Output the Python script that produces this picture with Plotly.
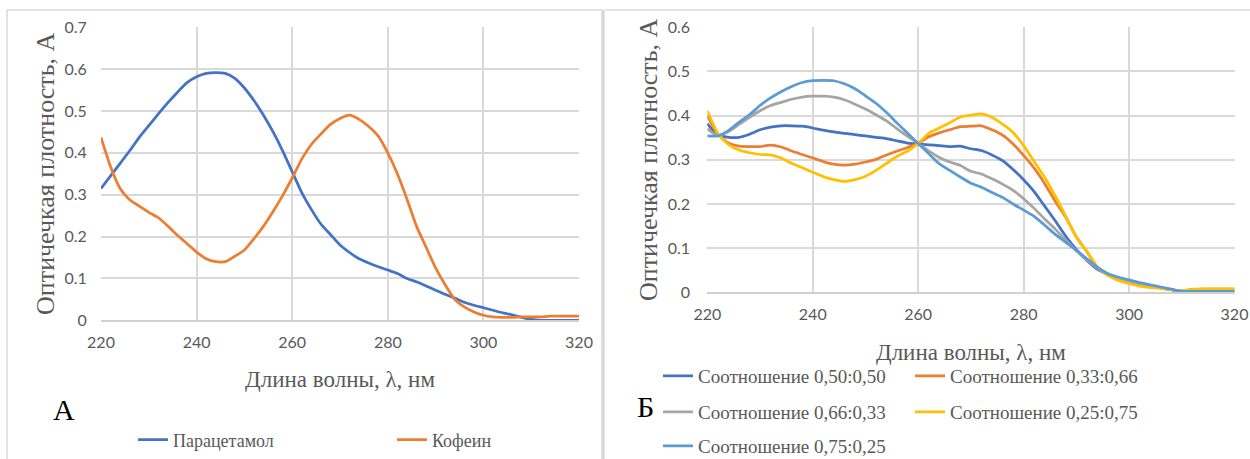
import plotly.graph_objects as go

W, H = 1250, 459

wl = list(range(220, 322, 2))

paracetamol = [0.315, 0.345, 0.375, 0.405, 0.437, 0.465, 0.493, 0.520, 0.545, 0.568,
               0.582, 0.590, 0.592, 0.590, 0.578, 0.555, 0.525, 0.490, 0.450, 0.405,
               0.355, 0.305, 0.265, 0.230, 0.205, 0.180, 0.162, 0.147, 0.137, 0.128,
               0.120, 0.112, 0.100, 0.092, 0.082, 0.072, 0.062, 0.053, 0.043, 0.036,
               0.030, 0.024, 0.018, 0.013, 0.007, 0.002, 0.0, 0.0, 0.0, 0.0, 0.0]
caffeine = [0.437, 0.367, 0.315, 0.288, 0.273, 0.258, 0.245, 0.225, 0.203, 0.183,
            0.163, 0.147, 0.140, 0.140, 0.153, 0.168, 0.195, 0.225, 0.260, 0.298,
            0.340, 0.385, 0.420, 0.445, 0.468, 0.482, 0.490, 0.480, 0.463, 0.440,
            0.400, 0.350, 0.290, 0.225, 0.175, 0.125, 0.085, 0.050, 0.032, 0.020,
            0.012, 0.008, 0.007, 0.007, 0.008, 0.008, 0.008, 0.010, 0.010, 0.010, 0.010]

r50_50 = [0.382, 0.356, 0.351, 0.351, 0.358, 0.368, 0.374, 0.377, 0.377, 0.376,
          0.372, 0.367, 0.363, 0.360, 0.357, 0.354, 0.351, 0.348, 0.343, 0.338,
          0.336, 0.334, 0.332, 0.330, 0.331, 0.325, 0.321, 0.311, 0.298, 0.278,
          0.255, 0.228, 0.195, 0.162, 0.127, 0.097, 0.072, 0.052, 0.040, 0.031,
          0.025, 0.019, 0.015, 0.010, 0.006, 0.002, 0.002, 0.002, 0.002, 0.002, 0.002]
r33_66 = [0.400, 0.358, 0.338, 0.331, 0.330, 0.330, 0.333, 0.329, 0.320, 0.312,
          0.304, 0.296, 0.290, 0.288, 0.290, 0.295, 0.301, 0.311, 0.320, 0.328,
          0.337, 0.352, 0.361, 0.368, 0.375, 0.376, 0.377, 0.368, 0.356, 0.336,
          0.310, 0.281, 0.246, 0.206, 0.170, 0.125, 0.092, 0.056, 0.040, 0.029,
          0.022, 0.016, 0.012, 0.010, 0.006, 0.003, 0.006, 0.007, 0.007, 0.007, 0.007]
r66_33 = [0.370, 0.355, 0.364, 0.380, 0.396, 0.411, 0.423, 0.430, 0.437, 0.442,
          0.444, 0.444, 0.442, 0.436, 0.426, 0.415, 0.402, 0.388, 0.370, 0.353,
          0.337, 0.320, 0.305, 0.295, 0.287, 0.274, 0.268, 0.257, 0.245, 0.231,
          0.212, 0.190, 0.166, 0.143, 0.118, 0.094, 0.073, 0.055, 0.042, 0.032,
          0.025, 0.019, 0.015, 0.010, 0.006, 0.002, 0.002, 0.002, 0.002, 0.002, 0.002]
r25_75 = [0.411, 0.360, 0.335, 0.322, 0.316, 0.312, 0.311, 0.304, 0.292, 0.282,
          0.272, 0.262, 0.255, 0.251, 0.255, 0.263, 0.276, 0.292, 0.308, 0.320,
          0.337, 0.360, 0.372, 0.384, 0.397, 0.401, 0.404, 0.396, 0.381, 0.362,
          0.332, 0.296, 0.260, 0.218, 0.172, 0.125, 0.093, 0.057, 0.038, 0.027,
          0.020, 0.014, 0.011, 0.009, 0.006, 0.003, 0.007, 0.008, 0.008, 0.008, 0.008]
r75_25 = [0.354, 0.354, 0.366, 0.385, 0.402, 0.423, 0.440, 0.454, 0.466, 0.475,
          0.479, 0.480, 0.479, 0.472, 0.461, 0.445, 0.428, 0.407, 0.383, 0.360,
          0.337, 0.314, 0.291, 0.276, 0.261, 0.247, 0.238, 0.226, 0.215, 0.200,
          0.186, 0.172, 0.152, 0.131, 0.113, 0.095, 0.076, 0.057, 0.042, 0.034,
          0.028, 0.022, 0.017, 0.012, 0.007, 0.002, 0.002, 0.002, 0.002, 0.002, 0.002]

left_series = [("Парацетамол", paracetamol, "#4472C4"), ("Кофеин", caffeine, "#ED7D31")]
right_series = [("Соотношение 0,50:0,50", r50_50, "#4472C4"),
                ("Соотношение 0,33:0,66", r33_66, "#ED7D31"),
                ("Соотношение 0,66:0,33", r66_33, "#A5A5A5"),
                ("Соотношение 0,25:0,75", r25_75, "#FFC000"),
                ("Соотношение 0,75:0,25", r75_25, "#5B9BD5")]

x_ticks = [220, 240, 260, 280, 300, 320]
y_ticks_left = [0, 0.1, 0.2, 0.3, 0.4, 0.5, 0.6, 0.7]
y_ticks_right = [0, 0.1, 0.2, 0.3, 0.4, 0.5, 0.6]


def ylab(v):
    return "0" if v == 0 else f"{v:.1f}"


def px(x):
    return x / W


def py(y):
    return 1 - y / H


SERIF = "Liberation Serif, Times New Roman, serif"

fig = go.Figure()

# legend anchor positions (pixel coords of legend box left / row centre)
left_leg_pos = [(133, 440), (392, 440)]
right_leg_pos = [(658, 376), (910, 376), (658, 412), (910, 412), (658, 446)]

left_leg_font = dict(family=SERIF, size=18, color="#595959")
right_leg_font = dict(family=SERIF, size=19, color="#595959")
leg_layouts = {}
n = 1
for (name, vals, col), (lx, ly) in zip(left_series, left_leg_pos):
    key = "legend" if n == 1 else f"legend{n}"
    fig.add_trace(go.Scatter(x=wl, y=vals, name=name, mode="lines",
                             line=dict(color=col, width=2.75, shape="spline", smoothing=0.6),
                             xaxis="x", yaxis="y", legend=key))
    leg_layouts[key] = dict(x=px(lx), y=py(ly), xanchor="left", yanchor="middle",
                            font=left_leg_font, bgcolor="rgba(0,0,0,0)")
    n += 1
for (name, vals, col), (lx, ly) in zip(right_series, right_leg_pos):
    key = f"legend{n}"
    fig.add_trace(go.Scatter(x=wl, y=vals, name=name, mode="lines",
                             line=dict(color=col, width=2.75, shape="spline", smoothing=0.6),
                             xaxis="x2", yaxis="y2", legend=key))
    leg_layouts[key] = dict(x=px(lx), y=py(ly), xanchor="left", yanchor="middle",
                            font=right_leg_font, bgcolor="rgba(0,0,0,0)")
    n += 1

tick_font = dict(family="Lato", size=16, color="#595959")
title_font = dict(family=SERIF, size=23, color="#595959")
ytitle_font = dict(family=SERIF, size=26, color="#595959")
grid = "#D9D9D9"

axis_common = dict(showgrid=True, gridcolor=grid, gridwidth=1.5, zeroline=False,
                   showline=False, tickfont=tick_font, ticks="outside",
                   tickcolor="rgba(0,0,0,0)", mirror=False, automargin=False)

fig.update_layout(
    width=W, height=H,
    margin=dict(l=0, r=0, t=0, b=0, autoexpand=False),
    paper_bgcolor="white", plot_bgcolor="white",
    showlegend=True,
    xaxis=dict(domain=[px(101), px(579)], range=[220, 320], tickvals=x_ticks,
               ticklen=7, anchor="y",
               title=dict(text="Длина волны, λ, нм", font=title_font, standoff=21),
               **axis_common),
    yaxis=dict(domain=[py(320.3), py(27.3)], range=[0, 0.7], tickvals=y_ticks_left,
               ticktext=[ylab(v) for v in y_ticks_left], ticklen=10, anchor="x",
               title=dict(text="Оптичечкая плотность, А", font=ytitle_font, standoff=2),
               **axis_common),
    xaxis2=dict(domain=[px(707.3), px(1234.5)], range=[220, 320], tickvals=x_ticks,
                ticklen=7, anchor="y2",
                title=dict(text="Длина волны, λ, нм", font=title_font, standoff=22),
                **axis_common),
    yaxis2=dict(domain=[py(292.3), py(27.3)], range=[0, 0.6], tickvals=y_ticks_right,
                ticktext=[ylab(v) for v in y_ticks_right], ticklen=13, anchor="x2",
                title=dict(text="Оптичечкая плотность, А", font=ytitle_font, standoff=2),
                **axis_common),
    **leg_layouts,
)

# y=0 baseline (axis line)
fig.update_xaxes(showline=True, linecolor="#D0D0D0", linewidth=1.5)

# panel borders
border = "#D9D9D9"
shapes = [
    dict(type="line", xref="paper", yref="paper", x0=px(7), x1=px(7), y0=0, y1=py(10)),
    dict(type="line", xref="paper", yref="paper", x0=px(7), x1=px(603), y0=py(10), y1=py(10)),
    dict(type="line", xref="paper", yref="paper", x0=px(605), x1=px(1250), y0=py(10), y1=py(10)),
]
for s in shapes:
    s["line"] = dict(color=border, width=1.5)
shapes.append(dict(type="line", xref="paper", yref="paper", x0=px(603), x1=px(603),
                   y0=0, y1=py(10), line=dict(color=border, width=3.5)))
fig.update_layout(shapes=shapes)

fig.add_annotation(text="А", x=px(51), y=py(428), xref="paper", yref="paper",
                   showarrow=False, font=dict(family=SERIF, size=30, color="black"))
fig.add_annotation(text="Б", x=px(645), y=py(425), xref="paper", yref="paper",
                   showarrow=False, font=dict(family=SERIF, size=30, color="black"))

fig.write_html("out.html")
